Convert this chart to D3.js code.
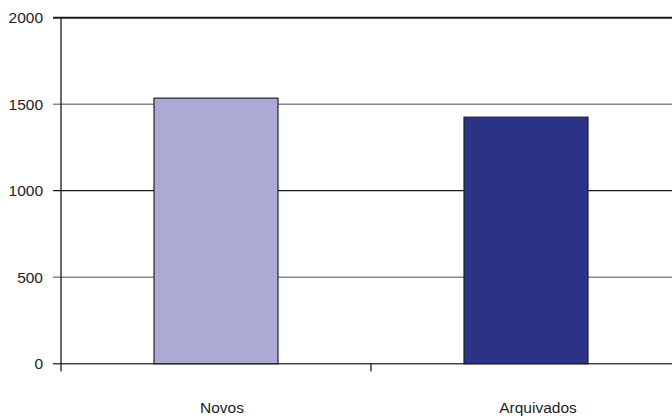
<!DOCTYPE html>
<html><head><meta charset="utf-8">
<script src="https://cdn.jsdelivr.net/npm/d3@7"></script>
<style>html,body{margin:0;padding:0;background:#fff;}svg{display:block;}</style>
</head><body>
<svg id="chart" width="672" height="417"></svg>
<script>
const categories = ["Novos", "Arquivados"];
const values = [1535, 1425];
const barColors = ["#ABAAD4", "#2A3385"];
const yTicks = [0, 500, 1000, 1500, 2000];

(function () {
const svg = d3.select("#chart");
const mLeft = 61, mRight = 681, mTop = 17.7, mBottom = 363.7;

const x = d3.scaleBand().domain(categories).range([mLeft, mRight]).paddingInner(0).paddingOuter(0);
const y = d3.scaleLinear().domain([0, 2000]).range([mBottom, mTop]);
const barW = x.bandwidth() * 0.4;

// gridlines
const gridStyle = {2000: ["#1a1a1a", 2], 1500: ["#888", 1.6], 1000: ["#1a1a1a", 1.2], 500: ["#888", 1.6], 0: ["#444", 1.5]};
svg.append("g").selectAll("line").data(yTicks).join("line")
  .attr("x1", mLeft - 8).attr("x2", 672)
  .attr("y1", d => y(d)).attr("y2", d => y(d))
  .attr("stroke", d => gridStyle[d][0]).attr("stroke-width", d => gridStyle[d][1]);

// y labels
svg.append("g").selectAll("text").data(yTicks).join("text")
  .attr("x", 43).attr("y", d => y(d)).attr("dy", "0.36em")
  .attr("text-anchor", "end")
  .attr("font-family", "Liberation Sans, Arial, sans-serif").attr("font-size", 15.5)
  .attr("fill", "#222")
  .text(d => d);

// y axis line
svg.append("line").attr("x1", mLeft).attr("x2", mLeft).attr("y1", mTop).attr("y2", mBottom + 7.5)
  .attr("stroke", "#1a1a1a").attr("stroke-width", 1.3);

// x category tick at band boundary
const boundaries = [x(categories[1])];
svg.append("g").selectAll("line").data(boundaries).join("line")
  .attr("x1", d => d).attr("x2", d => d).attr("y1", mBottom).attr("y2", mBottom + 7.5)
  .attr("stroke", "#1a1a1a").attr("stroke-width", 1.3);

// bars
svg.append("g").selectAll("rect").data(values).join("rect")
  .attr("x", (d, i) => x(categories[i]) + (x.bandwidth() - barW) / 2)
  .attr("width", barW)
  .attr("y", d => y(d))
  .attr("height", d => y(0) - y(d))
  .attr("fill", (d, i) => barColors[i])
  .attr("stroke", "#222").attr("stroke-width", 1.2);

// x labels
svg.append("g").selectAll("text").data(categories).join("text")
  .attr("x", (d, i) => x(d) + x.bandwidth() / 2 + 6 + i * 6)
  .attr("y", 413)
  .attr("text-anchor", "middle")
  .attr("font-family", "Liberation Sans, Arial, sans-serif").attr("font-size", 15.5)
  .attr("fill", "#222")
  .text(d => d);
})();
</script>
</body></html>
